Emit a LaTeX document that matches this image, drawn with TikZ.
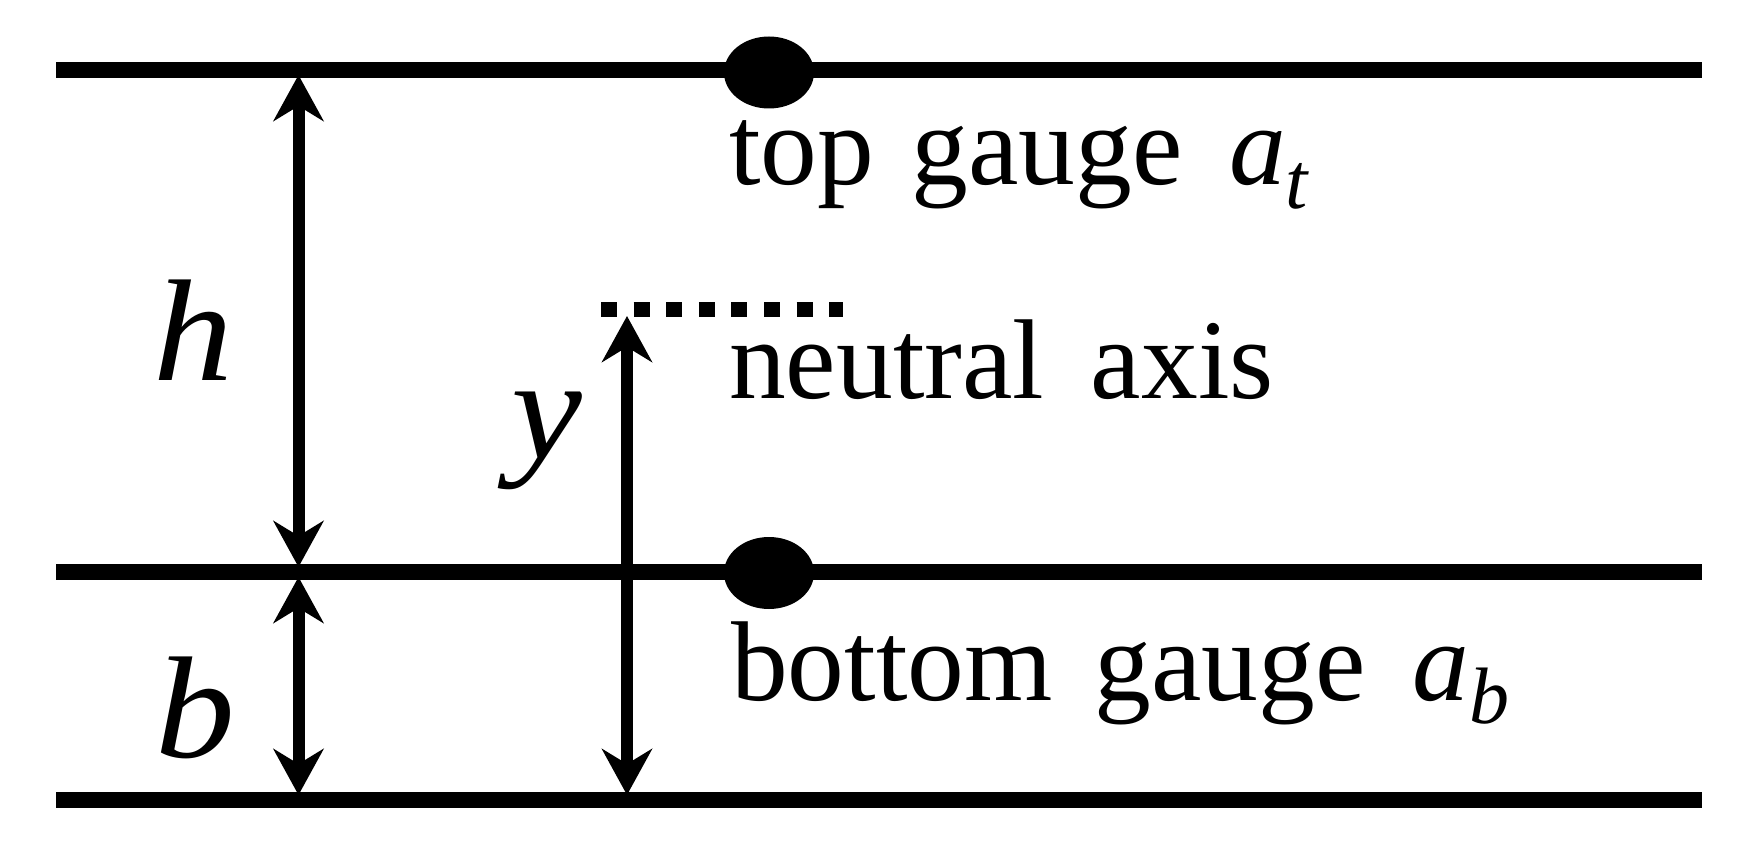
\documentclass[tikz,border=0pt]{standalone}
\usepackage{fontspec}
\setmainfont{Liberation Serif}
\usetikzlibrary{arrows.meta,shapes.geometric}
\newcommand{\subsc}[1]{\raisebox{-0.21em}{\fontsize{80}{88}\selectfont\textit{#1}}}
\newcommand{\wide}[1]{\scalebox{1.1}[1]{#1}}
\tikzset{
  x=1pt,y=-1pt,
  beam/.style={line width=16pt},
  gaugedot/.style={ellipse,fill=black,minimum width=90pt,minimum height=72pt,inner sep=0pt},
  dim/.style={line width=12pt,{Stealth[length=46pt,width=50pt,inset=15pt]}-{Stealth[length=46pt,width=50pt,inset=15pt]}},
  lab/.style={anchor=base west,inner sep=0pt,font=\fontsize{113.5}{130}\selectfont},
  sym/.style={anchor=base west,inner sep=0pt,font=\fontsize{145}{160}\selectfont\itshape},
  neutralline/.style={line width=15pt,dash pattern=on 16pt off 16.6pt}
}
\begin{document}
\begin{tikzpicture}
\useasboundingbox (0,0) rectangle (1764,853);
\fill[white] (0,0) rectangle (1764,853);
% beam ends
\coordinate (tl) at (56,70); \coordinate (tr) at (1702,70);
\coordinate (ml) at (56,572); \coordinate (mr) at (1702,572);
\coordinate (bl) at (56,800); \coordinate (br) at (1702,800);
\draw[beam] (tl) -- (tr);
\draw[beam] (ml) -- (mr);
\draw[beam] (bl) -- (br);
\node[gaugedot] (gt) at (769,72.5) {};
\node[gaugedot] (gb) at (769,573) {};
% dimension arrows
\coordinate (h1) at (298.5,75); \coordinate (h2) at (298.5,567);
\coordinate (b1) at (298.5,577); \coordinate (b2) at (298.5,795);
\coordinate (y1) at (627,316); \coordinate (y2) at (627,795);
\draw[dim] (h1) -- (h2);
\draw[dim] (b1) -- (b2);
\draw[dim] (y1) -- (y2);
% neutral axis
\coordinate (n1) at (601,309.5); \coordinate (n2) at (843,309.5);
\draw[neutralline] (n1) -- (n2);
% labels
\node[lab] (ltop) at (729,185) {top\hspace{0.33em}gauge\hspace{0.41em}\textit{a}\subsc{t}};
\node[lab] (lneu) at (729,398) {neutral\hspace{0.41em}axis};
\node[lab] (lbot) at (731,700) {bottom\hspace{0.37em}gauge\hspace{0.41em}\textit{a}\subsc{b}};
\node[sym] (sh) at (153,380) {\wide{h}};
\node[sym] (sy) at (511,458) {\wide{y}};
\node[sym] (sb) at (155,757) {\wide{b}};
\end{tikzpicture}
\end{document}
